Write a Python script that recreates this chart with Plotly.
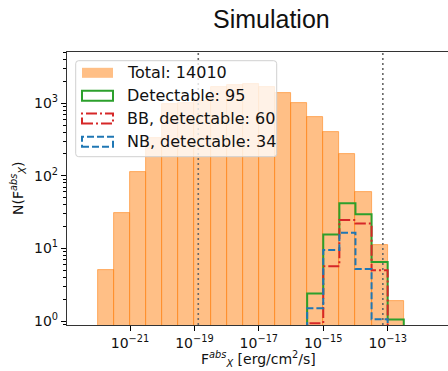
import plotly.graph_objects as go

# ---------------- data ----------------
bin_edges_exp = [-22.0, -21.5, -21.0, -20.5, -20.0, -19.5, -19.0, -18.5, -18.0, -17.5,
                 -17.0, -16.5, -16.0, -15.5, -15.0, -14.5, -14.0, -13.5, -13.0, -12.5]
total_counts = [5.0, 30.4, 114, 330, 980, 1020, 1080, 1650, 1782, 1838,
                1687, 1369, 996, 652, 397, 198, 60, 11.1, 1.9]
detect_counts = [0, 0, 0, 0, 0, 0, 0, 0, 0, 0, 0, 0, 0, 2.4, 15.6, 41.8, 29.5, 6.5, 1.05]
bb_counts = [0, 0, 0, 0, 0, 0, 0, 0, 0, 0, 0, 0, 0, 0.93, 5.7, 24.6, 22.1, 5.0, 0]
nb_counts = [0, 0, 0, 0, 0, 0, 0, 0, 0, 0, 0, 0, 0, 1.5, 9.5, 16.4, 5.2, 1.06, 0]
vlines_exp = [-18.88, -13.15]
legend_labels = ["Total: 14010", "Detectable: 95", "BB, detectable: 60", "NB, detectable: 34"]
x_tick_exp = [-21, -19, -17, -15, -13]
y_tick_vals = [1, 10, 100, 1000]

title_text = "Simulation"
xlabel = "F<sup><i>abs</i></sup><sub><i>X</i></sub> [erg/cm<sup>2</sup>/s]"
ylabel = "N(F<sup><i>abs</i></sup><sub><i>X</i></sub>)"

# ---------------- layout geometry (pixels) ----------------
W, H = 448, 371
L, R, T, B = 67, 448, 52, 325
PW, PH = R - L, B - T


def px(x):
    return (x - L) / PW


def py(y):
    return (B - y) / PH


ORANGE_FILL = "rgba(255,127,14,0.5)"
ORANGE_EDGE = "rgba(255,127,14,0.7)"
GREEN = "#2ca02c"
RED = "#d62728"
BLUE = "#1f77b4"

centers = [(bin_edges_exp[i] + bin_edges_exp[i + 1]) / 2 for i in range(len(total_counts))]
widths = [bin_edges_exp[i + 1] - bin_edges_exp[i] for i in range(len(total_counts))]

fig = go.Figure()
fig.add_trace(go.Bar(x=centers, y=total_counts, width=widths,
                     marker=dict(color=ORANGE_FILL, line=dict(color=ORANGE_EDGE, width=0.8)),
                     showlegend=False, hoverinfo="skip"))


def step_trace(counts, color, dash):
    nz = [i for i, c in enumerate(counts) if c > 0]
    i0, i1 = nz[0], nz[-1]
    low = 0.3
    xs = [bin_edges_exp[i0]]
    ys = [low]
    for i in range(i0, i1 + 1):
        xs.append(bin_edges_exp[i])
        ys.append(counts[i])
    xs.append(bin_edges_exp[i1 + 1])
    ys.append(low)
    return go.Scatter(x=xs, y=ys, mode="lines", line=dict(color=color, width=2, dash=dash, shape="hv"),
                      showlegend=False, hoverinfo="skip")


fig.add_trace(step_trace(detect_counts, GREEN, "solid"))
fig.add_trace(step_trace(bb_counts, RED, "11px,3px,2px,3px"))
fig.add_trace(step_trace(nb_counts, BLUE, "7px,3px"))

shapes = []
for v in vlines_exp:
    shapes.append(dict(type="line", xref="x", yref="paper", x0=v, x1=v, y0=0, y1=1,
                       line=dict(color="#666666", width=1.6, dash="2px,3px"), layer="above"))

# legend box (rounded)
bx0, by0, bx1, by1, r = 75.7, 60.7, 276.7, 156.7, 3
rx, ry = r / PW, r / PH
X0, X1, Y0, Y1 = px(bx0), px(bx1), py(by1), py(by0)
path = (f"M {X0+rx},{Y0} L {X1-rx},{Y0} Q {X1},{Y0} {X1},{Y0+ry} L {X1},{Y1-ry} "
        f"Q {X1},{Y1} {X1-rx},{Y1} L {X0+rx},{Y1} Q {X0},{Y1} {X0},{Y1-ry} "
        f"L {X0},{Y0+ry} Q {X0},{Y0} {X0+rx},{Y0} Z")
shapes.append(dict(type="path", xref="paper", yref="paper", path=path,
                   fillcolor="rgba(255,255,255,0.8)", line=dict(color="#d0d0d0", width=1), layer="above"))

rows_y = [72.8, 95.8, 118.5, 141.7]
pat_x0, pat_x1 = 82.0, 113.0
styles = [
    dict(fillcolor="#ffbf86", line=dict(width=0)),
    dict(fillcolor="rgba(0,0,0,0)", line=dict(color=GREEN, width=2)),
    dict(fillcolor="rgba(0,0,0,0)", line=dict(color=RED, width=2, dash="11px,3px,2px,3px")),
    dict(fillcolor="rgba(0,0,0,0)", line=dict(color=BLUE, width=2, dash="7px,3px")),
]
annotations = []
for yy, st, lab in zip(rows_y, styles, legend_labels):
    shapes.append(dict(type="rect", xref="paper", yref="paper",
                       x0=px(pat_x0), x1=px(pat_x1), y0=py(yy + 5), y1=py(yy - 5), layer="above", **st))
    annotations.append(dict(text=lab, xref="paper", yref="paper", x=px(125), y=py(yy),
                            xanchor="left", yanchor="middle", showarrow=False,
                            font=dict(family="DejaVu Sans", size=16, color="#111111")))

annotations.append(dict(text=title_text, xref="paper", yref="paper", x=px(271), y=py(19),
                        xanchor="center", yanchor="middle", showarrow=False,
                        font=dict(family="Liberation Sans", size=25, color="#111111")))
annotations.append(dict(text=xlabel, xref="paper", yref="paper", x=px(258), y=py(359),
                        xanchor="center", yanchor="middle", showarrow=False,
                        font=dict(family="DejaVu Sans", size=14, color="#111111")))
annotations.append(dict(text=ylabel, xref="paper", yref="paper", x=px(18), y=py(188),
                        xanchor="center", yanchor="middle", showarrow=False, textangle=-90,
                        font=dict(family="DejaVu Sans", size=14, color="#111111")))

minor_vals = [m * 10 ** k for k in range(-1, 4) for m in range(2, 10)]

fig.update_layout(
    width=W, height=H, margin=dict(l=L, r=W - R, t=T, b=H - B),
    paper_bgcolor="white", plot_bgcolor="white", bargap=0, showlegend=False,
    shapes=shapes, annotations=annotations,
    xaxis=dict(range=[-22.956, -11.127], showgrid=False, zeroline=False,
               tickvals=x_tick_exp, ticktext=[f"10<sup>\u2212{-e}</sup>" for e in x_tick_exp],
               ticks="outside", ticklen=5, tickwidth=1, tickcolor="black",
               showline=True, linecolor="#333333", linewidth=1.3, mirror=True,
               tickfont=dict(family="DejaVu Sans", size=14, color="#111111")),
    yaxis=dict(type="log", range=[-0.055, 3.705], showgrid=False, zeroline=False,
               tickvals=y_tick_vals, ticktext=["10<sup>0</sup>", "10<sup>1</sup>", "10<sup>2</sup>", "10<sup>3</sup>"],
               ticks="outside", ticklen=5, tickwidth=1, tickcolor="black",
               minor=dict(tickvals=minor_vals, ticks="outside", ticklen=2.5, tickwidth=0.8, tickcolor="black"),
               showline=True, linecolor="#333333", linewidth=1.3,
               tickfont=dict(family="DejaVu Sans", size=14, color="#111111")),
)

fig.write_html("out.html")
